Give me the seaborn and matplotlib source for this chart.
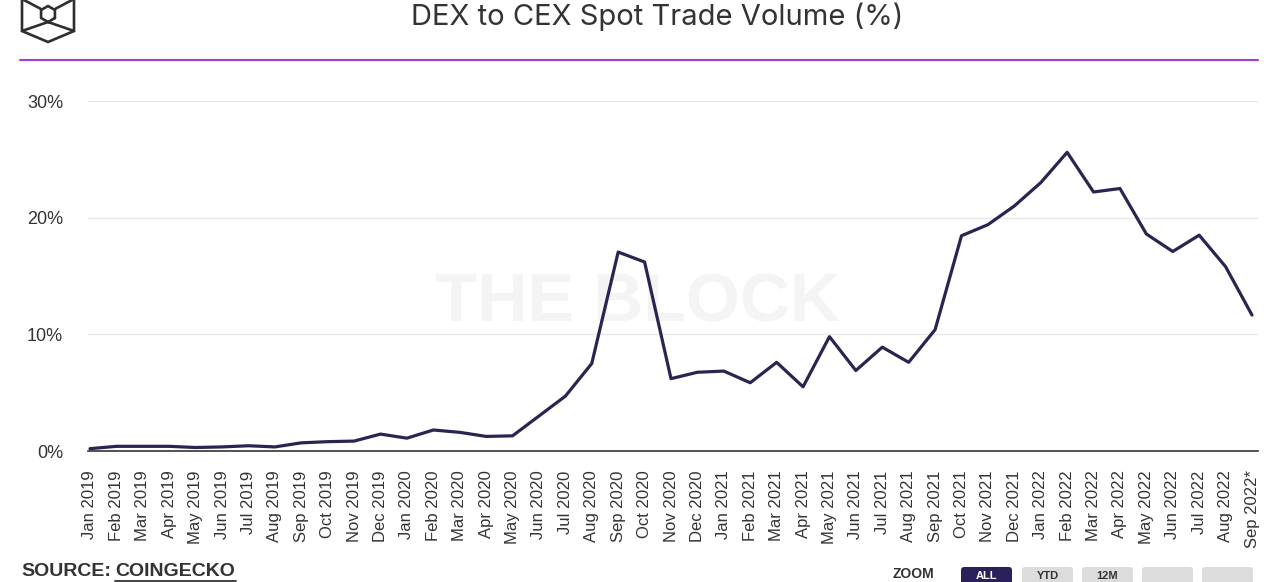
import numpy as np
import pandas as pd
import matplotlib
matplotlib.use("Agg")
import matplotlib.pyplot as plt
from matplotlib.patches import FancyBboxPatch
import seaborn as sns

months = ["Jan 2019", "Feb 2019", "Mar 2019", "Apr 2019", "May 2019", "Jun 2019",
          "Jul 2019", "Aug 2019", "Sep 2019", "Oct 2019", "Nov 2019", "Dec 2019",
          "Jan 2020", "Feb 2020", "Mar 2020", "Apr 2020", "May 2020", "Jun 2020",
          "Jul 2020", "Aug 2020", "Sep 2020", "Oct 2020", "Nov 2020", "Dec 2020",
          "Jan 2021", "Feb 2021", "Mar 2021", "Apr 2021", "May 2021", "Jun 2021",
          "Jul 2021", "Aug 2021", "Sep 2021", "Oct 2021", "Nov 2021", "Dec 2021",
          "Jan 2022", "Feb 2022", "Mar 2022", "Apr 2022", "May 2022", "Jun 2022",
          "Jul 2022", "Aug 2022", "Sep 2022*"]
dex_to_cex = [0.2, 0.4, 0.4, 0.4, 0.3, 0.35, 0.45, 0.35, 0.7, 0.8, 0.85, 1.45,
              1.1, 1.8, 1.6, 1.25, 1.3, 3.0, 4.7, 7.5, 17.05, 16.2, 6.2, 6.75,
              6.85, 5.85, 7.6, 5.5, 9.8, 6.9, 8.9, 7.6, 10.4, 18.45, 19.4, 21.0,
              23.0, 25.6, 22.2, 22.5, 18.6, 17.1, 18.5, 15.8, 11.65]
y_ticks = [0, 10, 20, 30]
y_tick_labels = ["0%", "10%", "20%", "30%"]
title = "DEX to CEX Spot Trade Volume (%)"
source_label = "SOURCE:"
source_name = "COINGECKO"
zoom_label = "ZOOM"
zoom_buttons = ["ALL", "YTD", "12M", "", ""]

sns.set_theme(style="white")
plt.rcParams["font.family"] = ["Liberation Sans", "DejaVu Sans"]

df = pd.DataFrame({"pos": np.arange(len(months)), "month": months, "value": dex_to_cex})

W, H = 1280, 582
fig = plt.figure(figsize=(W / 100, H / 100), dpi=100)
fig.patch.set_facecolor("white")

left, right, top, bottom = 88, 1258, 101, 451
ax = fig.add_axes([left / W, 1 - bottom / H, (right - left) / W, (bottom - top) / H])

# watermark
ax.text(0.47, 0.42, "THE BLOCK", transform=ax.transAxes, ha="center", va="center",
        fontsize=50, fontweight="bold", color="#f4f4f4", zorder=0)

sns.lineplot(data=df, x="pos", y="value", ax=ax, color="#2a2550", linewidth=2.3, zorder=3)

n = len(months)
step = (1252 - 90) / (n - 1)
x0 = -(90 - left) / step
x1 = (n - 1) + (right - 1252) / step
ax.set_xlim(x0, x1)
ax.set_ylim(0, 30)
ax.set_yticks(y_ticks)
ax.set_yticklabels(y_tick_labels)
ax.set_xticks(df["pos"])
ax.set_xticklabels(months, rotation=90)
ax.tick_params(axis="y", length=0, pad=18, labelsize=13, labelcolor="#333333")
ax.tick_params(axis="x", length=0, pad=14, labelsize=12, labelcolor="#333333")
ax.set_xlabel("")
ax.set_ylabel("")
for yv in y_ticks[1:]:
    ax.axhline(yv, color="#e8e8e8", linewidth=1.0, zorder=1)
for s in ["top", "right", "left"]:
    ax.spines[s].set_visible(False)
ax.spines["bottom"].set_color("#333333")
ax.spines["bottom"].set_linewidth(1.2)
ax.spines["bottom"].set_zorder(2)

# overlay for decorations in pixel coordinates
ov = fig.add_axes([0, 0, 1, 1], zorder=-1)
ov.set_xlim(0, W)
ov.set_ylim(H, 0)
ov.axis("off")
ov.patch.set_alpha(0)

fig.text(657 / W, 1 - 17 / H, title, ha="center", va="center", fontsize=21,
         color="#333333", family=["Inter", "DejaVu Sans"])
ov.plot([20, 1258], [60, 60], color="#a23fd0", linewidth=1.5)

# logo
lc = "#2e2e2e"
lw = 1.9
ov.plot([22, 22, 48, 74, 74], [-4, 31, 42, 31, -4], color=lc, lw=lw, solid_joinstyle="miter")
ov.plot([22, 48, 74], [31, 22, 31], color=lc, lw=lw)
ov.plot([48, 48], [21, 22], color=lc, lw=lw)
ov.plot([22, 41], [-1, 9], color=lc, lw=lw)
ov.plot([74, 55], [-1, 9], color=lc, lw=lw)
ang = np.radians(np.arange(30, 391, 60))
hx = 48 + 8 * np.cos(ang)
hy = 14 + 8 * np.sin(ang)
ov.plot(hx, hy, color=lc, lw=lw)

# source
fig.text(21 / W, 1 - 571 / H, source_label, ha="left", va="center", fontsize=14,
         fontweight="bold", color="#333333")
fig.text(115 / W, 1 - 571 / H, source_name, ha="left", va="center", fontsize=14,
         fontweight="bold", color="#333333")
ov.plot([115, 236], [580.5, 580.5], color="#333333", lw=1.3)

# zoom buttons (cut by the bottom edge)
fig.text(893 / W, 1 - 581 / H, zoom_label, ha="left", va="bottom", fontsize=10,
         fontweight="bold", color="#333333")
bx = [961, 1022, 1082, 1142, 1202]
for i, (x, lab) in enumerate(zip(bx, zoom_buttons)):
    col = "#2b1f5c" if i == 0 else "#dcdcdc"
    ov.add_patch(FancyBboxPatch((x, 567), 51, 30, boxstyle="round,pad=0,rounding_size=3",
                                facecolor=col, edgecolor="none"))
    if lab:
        ov.text(x + 25.5, 581, lab, ha="center", va="bottom", fontsize=8, fontweight="bold",
                color="white" if i == 0 else "#333333")

fig.savefig("out.png", dpi=100, facecolor="white")
